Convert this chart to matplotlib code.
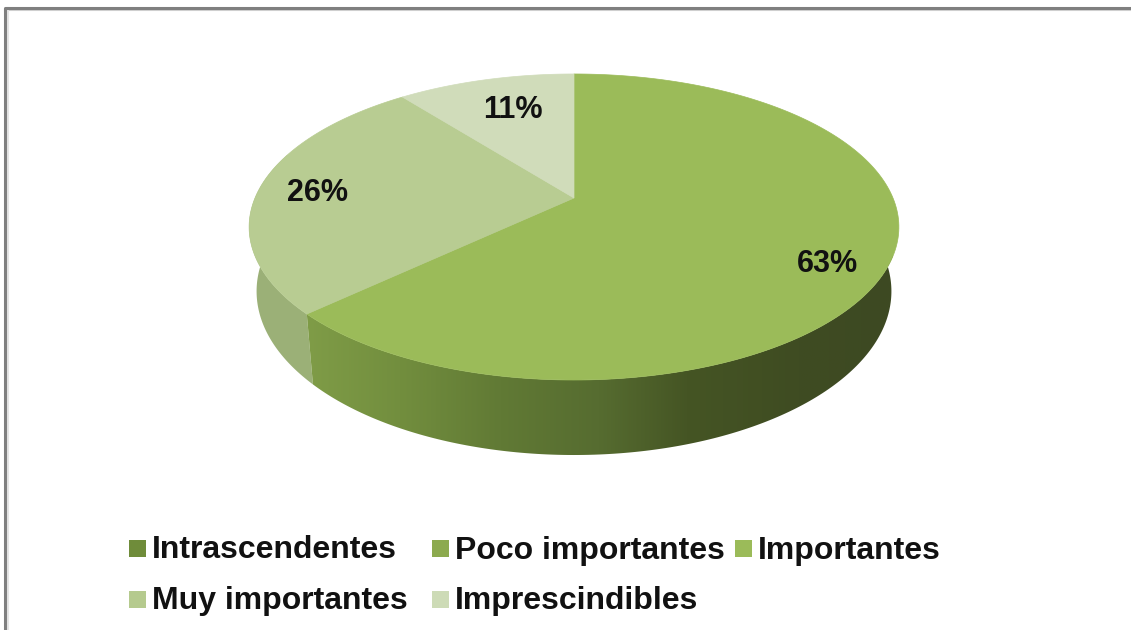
import numpy as np
import matplotlib
matplotlib.use('Agg')
import matplotlib.pyplot as plt
from matplotlib.colors import LinearSegmentedColormap
from matplotlib.patches import Polygon, Rectangle

plt.rcParams['font.family'] = ['Liberation Sans', 'DejaVu Sans']

# data
categories = ['Intrascendentes', 'Poco importantes', 'Importantes', 'Muy importantes', 'Imprescindibles']
shares = [0, 0, 63.0, 26.4, 10.6]
legend_colors = ['#6f8c3a', '#8caa4e', '#9bbb59', '#b5ca8e', '#cddbb6']
top_colors = ['#6f8c3a', '#8caa4e', '#9bbb59', '#b8cc92', '#d0dcba']

# layout, all in pixels of the 1131x630 picture
label_pos = {2: (827, 264), 3: (318, 193), 4: (513, 110)}
legend_pos = [(129, 548), (432, 548), (735, 548), (129, 599), (432, 599)]
gradient_stops = [(0.0, '#7f9c47'), (0.16, '#728e3e'), (0.33, '#617a35'), (0.50, '#566c30'),
                  (0.65, '#455524'), (0.84, '#3f4c22'), (1.0, '#3d4922')]


def top_rim(theta):
    # clockwise angle from 12 o'clock, perspective view of the disc
    u, v = np.sin(theta), np.cos(theta)
    w = 1 + 0.1895 * v
    return 574 + 319 * u / w, (198 - 110 * v) / w


def bottom_rim(theta):
    x, y = top_rim(theta)
    return 574 + 0.977 * (x - 574), 455 + 1.07 * (y - 380)


def wall(t0, t1):
    theta = np.linspace(t0, t1, 200)
    xt, yt = top_rim(theta)
    xb, yb = bottom_rim(theta)
    return np.column_stack([np.r_[xt, xb[::-1]], np.r_[yt, yb[::-1]]])


fig = plt.figure(figsize=(11.31, 6.3), dpi=100)
ax = fig.add_axes([0, 0, 1, 1])
ax.set_xlim(0, 1131)
ax.set_ylim(630, 0)
ax.axis('off')

# frame
ax.plot([5, 1131], [10, 10], color='#d2d2d2', lw=1.5, zorder=1)
ax.plot([7.5, 7.5], [8, 630], color='#e4e4e4', lw=1.5, zorder=1)
ax.plot([5, 5, 1131], [630, 8, 8], color='#7f7f7f', lw=2.2, zorder=2)

bounds = np.cumsum([0] + shares) / sum(shares) * 2 * np.pi
imp_end = bounds[3]

# side walls
left_wall = Polygon(wall(imp_end, 1.6 * np.pi), closed=True, fc='#9bb077', ec='none', zorder=3)
ax.add_patch(left_wall)

cmap = LinearSegmentedColormap.from_list('wall', gradient_stops)
grad = np.linspace(0, 1, 400).reshape(1, -1)
im = ax.imshow(grad, cmap=cmap, extent=[306, 893, 480, 220], aspect='auto', zorder=3, interpolation='bilinear')
right_wall = Polygon(wall(0.4 * np.pi, imp_end), closed=True, fc='none', ec='none', transform=ax.transData)
ax.add_patch(right_wall)
im.set_clip_path(right_wall)
ax.set_xlim(0, 1131)
ax.set_ylim(630, 0)

# top of the pie
for i, share in enumerate(shares):
    if share == 0:
        continue
    theta = np.linspace(bounds[i], bounds[i + 1], 200)
    xs, ys = top_rim(theta)
    pts = np.column_stack([np.r_[574, xs], np.r_[198, ys]])
    ax.add_patch(Polygon(pts, closed=True, fc=top_colors[i], ec=top_colors[i], lw=0.5, zorder=4))
    lx, ly = label_pos[i]
    ax.text(lx, ly, f'{share:.0f}%', ha='center', va='center', fontsize=22, fontweight='bold', color='#111111', zorder=5)

# legend
for (x, y), name, color in zip(legend_pos, categories, legend_colors):
    ax.add_patch(Rectangle((x, y - 8), 17, 17, fc=color, ec='none', zorder=3))
    ax.text(x + 23, y + 2.5, name, ha='left', va='center', fontsize=23, fontweight='bold', color='#111111', zorder=3)

fig.savefig('out.png', dpi=100, facecolor='white')
